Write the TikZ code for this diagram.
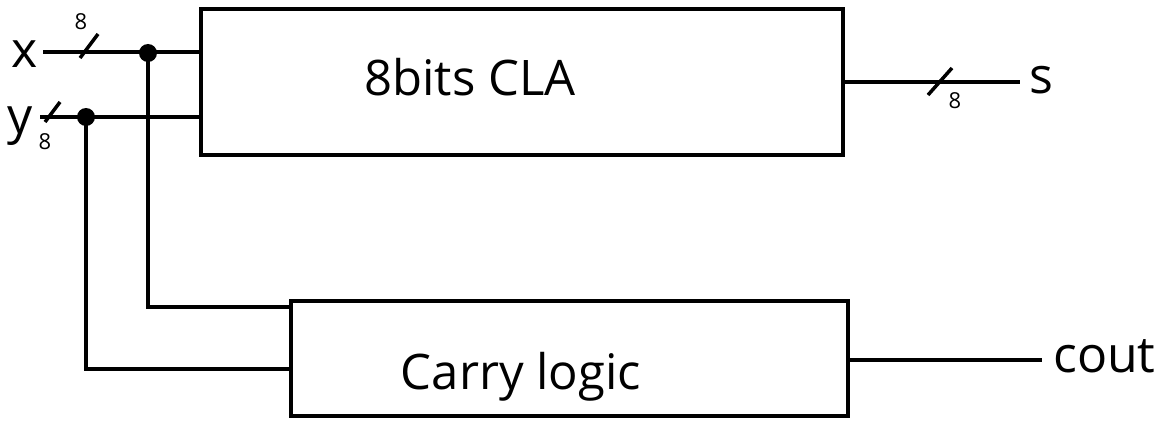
\documentclass[tikz,border=0pt]{standalone}
\usepackage{fontspec}
\setmainfont{Open Sans}
\begin{document}
\begin{tikzpicture}[x=1pt,y=-1pt,
  wire/.style={line width=4.5pt},
  blockbox/.style={draw,line width=4.5pt},
  busmark/.style={line width=3.5pt},
  dot/.style={circle,fill,inner sep=0pt,minimum width=13pt,minimum height=18pt},
  biglabel/.style={font=\fontsize{49}{53}\selectfont,inner sep=0pt},
  pinlabel/.style={font=\fontsize{50}{54}\selectfont,inner sep=0pt},
  buswidth/.style={font=\fontsize{22}{24}\selectfont,inner sep=0pt}]
\useasboundingbox (0,0) rectangle (1168,436);

% blocks
\draw[blockbox] (201,9) rectangle (843,155);
\node[biglabel] (cla) at (470,77) {8bits CLA};
\draw[blockbox] (291,301) rectangle (848,416);
\node[biglabel] (carry) at (521,377) {Carry logic};
\coordinate (claX) at (201,52);
\coordinate (claY) at (201,117);
\coordinate (claS) at (843,82);
\coordinate (crA) at (291,307);
\coordinate (crB) at (291,369);
\coordinate (crO) at (848,360);

% inputs
\node[pinlabel,anchor=base] (xl) at (25,67) {x};
\node[pinlabel,anchor=base] (yl) at (20,133) {y};
\coordinate (xin) at (43,52);
\coordinate (yin) at (40,117);
\draw[wire] (xin) -- (claX);
\draw[wire] (yin) -- (claY);

% bus width marks
\draw[busmark] (80,58) -- (98,34);
\node[buswidth] (xw) at (81,22) {8};
\draw[busmark] (45,122) -- (60,102);
\node[buswidth] (yw) at (45,142) {8};

% taps to the carry logic
\node[dot] (jx) at (148,53) {};
\node[dot] (jy) at (86,117) {};
\draw[wire] (jx.center) |- (crA);
\draw[wire] (jy.center) |- (crB);

% outputs
\coordinate (sout) at (1020,82);
\draw[wire] (claS) -- (sout);
\draw[busmark] (928,95) -- (952,68);
\node[buswidth] (sw) at (955,101) {8};
\node[pinlabel,anchor=base] (sl) at (1041,94) {s};
\coordinate (cend) at (1042,360);
\draw[wire] (crO) -- (cend);
\node[pinlabel,anchor=base west] (cl) at (1053,372) {cout};
\end{tikzpicture}
\end{document}
